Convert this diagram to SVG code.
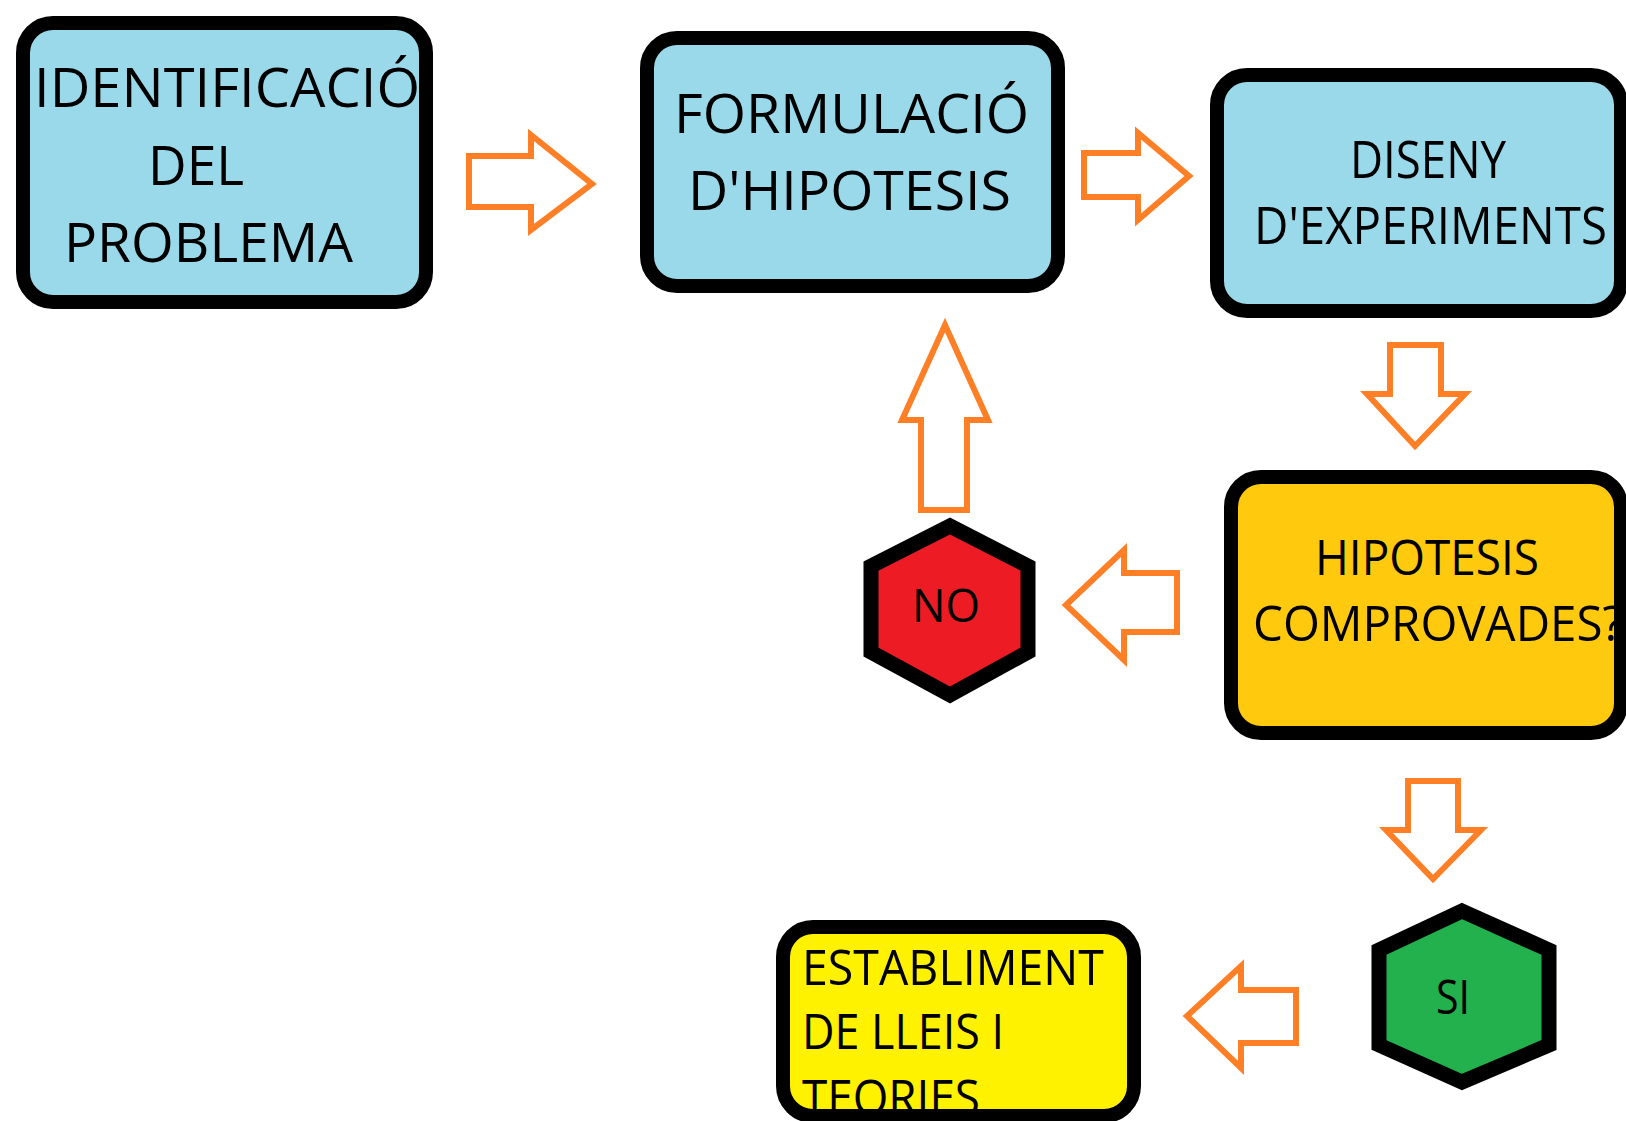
<svg xmlns="http://www.w3.org/2000/svg" width="1626" height="1121" viewBox="0 0 1626 1121">
<style>
.box{stroke:#000;stroke-width:14}
.hex{stroke:#000;stroke-width:15}
.blue{fill:#99D9EA}
.t{font-family:"Open Sans","Noto Sans","Liberation Sans",sans-serif;fill:#000}
.arr{fill:#fff;stroke:#FF7F27;stroke-width:6;stroke-linejoin:miter}
</style>
<rect width="1626" height="1121" fill="#fff"/>
<g id="connectors">
<polygon class="arr" points="469,156 531,156 531,135 592,184 531,230 531,207 469,207"/>
<polygon class="arr" points="1084,153 1138,153 1138,133 1189,176 1138,220 1138,197 1084,197"/>
<polygon class="arr" points="1390,345 1441,345 1441,394 1465,394 1415,446 1367,394 1390,394"/>
<polygon class="arr" points="921,510 921,420 902,420 945,325 988,420 967,420 967,510"/>
<polygon class="arr" points="1177,573 1124,573 1124,550 1066,605 1124,660 1124,632 1177,632"/>
<polygon class="arr" points="1408,781 1458,781 1458,830 1481,830 1433,879 1386,830 1408,830"/>
<polygon class="arr" points="1296,990 1241,990 1241,966 1187,1016 1241,1068 1241,1043 1296,1043"/>
</g>
<g id="identificacio">
<rect class="box blue" x="23" y="23" width="403" height="279" rx="30"/>
<text class="t" font-size="54" x="34" y="107" textLength="386" lengthAdjust="spacingAndGlyphs">IDENTIFICACIÓ</text>
<text class="t" font-size="54" x="148" y="185" textLength="96" lengthAdjust="spacingAndGlyphs">DEL</text>
<text class="t" font-size="54" x="64" y="262" textLength="289" lengthAdjust="spacingAndGlyphs">PROBLEMA</text>
</g>
<g id="formulacio">
<rect class="box blue" x="647" y="38" width="411" height="248" rx="30"/>
<text class="t" font-size="54" x="674" y="133" textLength="355" lengthAdjust="spacingAndGlyphs">FORMULACIÓ</text>
<text class="t" font-size="54" x="688" y="210" textLength="323" lengthAdjust="spacingAndGlyphs">D'HIPOTESIS</text>
</g>
<g id="disseny">
<rect class="box blue" x="1217" y="75" width="404" height="236" rx="30"/>
<text class="t" font-size="52" x="1350" y="178" textLength="156" lengthAdjust="spacingAndGlyphs">DISENY</text>
<text class="t" font-size="52" x="1254" y="244" textLength="353" lengthAdjust="spacingAndGlyphs">D'EXPERIMENTS</text>
</g>
<g id="hipotesis">
<rect class="box" fill="#FFC90E" x="1231" y="477" width="390" height="256" rx="30"/>
<text class="t" font-size="50" x="1315" y="575" textLength="224" lengthAdjust="spacingAndGlyphs">HIPOTESIS</text>
<text class="t" font-size="50" x="1253" y="641" textLength="370" lengthAdjust="spacingAndGlyphs">COMPROVADES?</text>
</g>
<g id="no">
<polygon class="hex" fill="#ED1C24" points="950,526 1028,566 1028,652 950,695 871,652 871,566"/>
<text class="t" font-size="46" x="912" y="622" textLength="68" lengthAdjust="spacingAndGlyphs">NO</text>
</g>
<g id="si">
<polygon class="hex" fill="#22B14C" points="1462,911 1549,950 1549,1045 1462,1082 1379,1045 1379,950"/>
<text class="t" font-size="47" x="1436" y="1014" textLength="34" lengthAdjust="spacingAndGlyphs">SI</text>
</g>
<g id="establiment">
<rect fill="#FFF200" x="783" y="927" width="351" height="189" rx="30"/>
<text class="t" font-size="50" x="802" y="985" textLength="302" lengthAdjust="spacingAndGlyphs">ESTABLIMENT</text>
<text class="t" font-size="50" x="802" y="1049" textLength="202" lengthAdjust="spacingAndGlyphs">DE LLEIS I</text>
<text class="t" font-size="50" x="802" y="1115" textLength="178" lengthAdjust="spacingAndGlyphs">TEORIES</text>
<rect class="box" fill="none" x="783" y="927" width="351" height="189" rx="30"/>
</g>
</svg>
